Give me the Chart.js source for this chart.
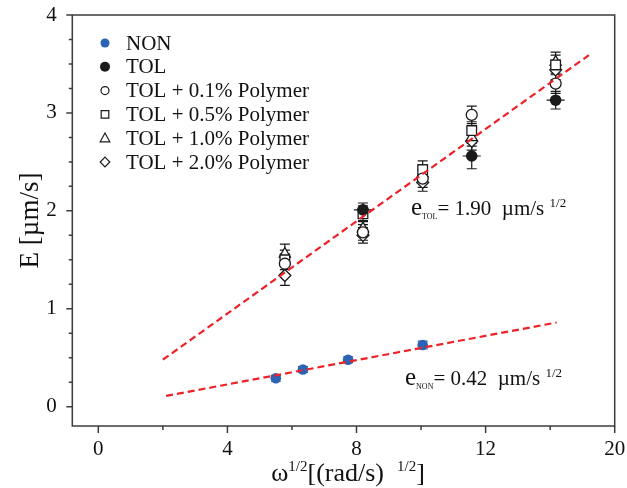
<!DOCTYPE html>
<html>
<head>
<meta charset="utf-8">
<script src="https://cdn.jsdelivr.net/npm/chart.js@4.4.0/dist/chart.umd.min.js"></script>
<style>
  html, body { margin: 0; padding: 0; background: #fff; }
  #wrap { width: 627px; height: 488px; }
</style>
</head>
<body>
<div id="wrap"><canvas id="chart" width="627" height="488"></canvas></div>
<script>
// ---- data (x = omega^1/2, y = E in um/s) ----
const xNon   = [5.50, 6.34, 7.74, 10.05];
const eNon   = [0.29, 0.38, 0.48, 0.63];
const errNon = [0.03, 0.03, 0.03, 0.04];

const xTol    = [8.20, 11.57, 14.17];
const eTol    = [2.01, 2.56, 3.13];
const errTol  = [0.07, 0.13, 0.09];
const xErrTol = [0.28, 0.28, 0.28];

const xPoly   = [5.78, 8.20, 10.05, 11.57, 14.17];
const ePoly01 = [1.46, 1.78, 2.33, 2.98, 3.30];
const ePoly05 = [1.50, 1.97, 2.42, 2.82, 3.49];
const ePoly10 = [1.56, 1.82, 2.38, 2.75, 3.52];
const ePoly20 = [1.34, 1.75, 2.29, 2.71, 3.44];
const errPoly = [0.10, 0.08, 0.09, 0.09, 0.10];

// fitted lines (end points)
const fitTolX = [2.0, 15.2];
const fitTolY = [0.48, 3.59];
const fitNonX = [2.1, 14.2];
const fitNonY = [0.11, 0.86];

// axes
const xTickValues = [0, 4, 8, 12, 16];
const xTickLabels = ['0', '4', '8', '12', '20'];
const xMinorTicks = [2, 6, 10, 14];
const yTickValues = [0, 1, 2, 3, 4];
const yMinorTicks = [0.25, 0.5, 0.75, 1.25, 1.5, 1.75, 2.25, 2.5, 2.75, 3.25, 3.5, 3.75];

const labels = ['NON', 'TOL', 'TOL + 0.1% Polymer', 'TOL + 0.5% Polymer',
                'TOL + 1.0% Polymer', 'TOL + 2.0% Polymer'];

const SERIF = '"Liberation Serif", "DejaVu Serif", serif';
const BLUE = '#2b63b5';
const INK = '#1a1a1a';
const RED = '#ec2228';

const pts = (xs, ys) => xs.map((x, i) => ({ x: x, y: ys[i] }));

function openSeries(label, ys, style, r) {
    return {
        label: label,
        data: pts(xPoly, ys),
        errY: errPoly,
        pointStyle: style,
        pointRadius: r,
        backgroundColor: '#fff',
        borderColor: INK,
        borderWidth: 1.3
    };
}

// simple marker painter for the legend
function marker(ctx, style, x, y, r, fill, stroke) {
    ctx.beginPath();
    if (style === 'circle') {
        ctx.arc(x, y, r, 0, Math.PI * 2);
    } else if (style === 'rect') {
        ctx.rect(x - r, y - r, 2 * r, 2 * r);
    } else if (style === 'triangle') {
        ctx.moveTo(x, y - r * 1.1);
        ctx.lineTo(x + r, y + r * 0.75);
        ctx.lineTo(x - r, y + r * 0.75);
        ctx.closePath();
    } else if (style === 'rectRot') {
        ctx.moveTo(x, y - r); ctx.lineTo(x + r, y);
        ctx.lineTo(x, y + r); ctx.lineTo(x - r, y);
        ctx.closePath();
    }
    ctx.fillStyle = fill;
    ctx.fill();
    if (stroke) { ctx.strokeStyle = stroke; ctx.lineWidth = 1.2; ctx.stroke(); }
}

// text made of runs with different sizes / baselines
function runs(ctx, x, y, parts, align) {
    let total = 0;
    parts.forEach(p => { ctx.font = p.s + 'px ' + SERIF; p.w = ctx.measureText(p.t).width; total += p.w; });
    let cx = align === 'center' ? x - total / 2 : x;
    ctx.textAlign = 'left';
    ctx.textBaseline = 'alphabetic';
    parts.forEach(p => {
        ctx.font = p.s + 'px ' + SERIF;
        ctx.fillText(p.t, cx, y + (p.dy || 0));
        cx += p.w;
    });
}

// no extra room for half-labels at the ends of the axes
function noOverflow(s) {
    s.paddingTop = 0; s.paddingBottom = 0; s.paddingLeft = 0; s.paddingRight = 0;
}

const errorBars = {
    id: 'errorBars',
    beforeDatasetsDraw(chart) {
        const ctx = chart.ctx;
        const xs = chart.scales.x, ys = chart.scales.y;
        ctx.save();
        ctx.lineWidth = 1.2;
        chart.data.datasets.forEach(ds => {
            if (!ds.errY) return;
            ctx.strokeStyle = ds.errColor || INK;
            ds.data.forEach((p, i) => {
                const px = xs.getPixelForValue(p.x);
                const top = ys.getPixelForValue(p.y + ds.errY[i]);
                const bot = ys.getPixelForValue(p.y - ds.errY[i]);
                ctx.beginPath();
                ctx.moveTo(px, top); ctx.lineTo(px, bot);
                ctx.moveTo(px - 5, top); ctx.lineTo(px + 5, top);
                ctx.moveTo(px - 5, bot); ctx.lineTo(px + 5, bot);
                if (ds.errX) {
                    const py = ys.getPixelForValue(p.y);
                    ctx.moveTo(xs.getPixelForValue(p.x - ds.errX[i]), py);
                    ctx.lineTo(xs.getPixelForValue(p.x + ds.errX[i]), py);
                }
                ctx.stroke();
            });
        });
        ctx.restore();
    }
};

const decorations = {
    id: 'decorations',
    afterDraw(chart) {
        const ctx = chart.ctx;
        const a = chart.chartArea;
        const xs = chart.scales.x, ys = chart.scales.y;
        ctx.save();

        // frame + tick marks
        ctx.strokeStyle = '#3c3c3c';
        ctx.lineWidth = 1.5;
        ctx.strokeRect(a.left, a.top, a.right - a.left, a.bottom - a.top);
        ctx.beginPath();
        xTickValues.forEach(v => { const p = xs.getPixelForValue(v); ctx.moveTo(p, a.bottom); ctx.lineTo(p, a.bottom + 7); });
        xMinorTicks.forEach(v => { const p = xs.getPixelForValue(v); ctx.moveTo(p, a.bottom); ctx.lineTo(p, a.bottom + 4); });
        yTickValues.forEach(v => { const p = ys.getPixelForValue(v); ctx.moveTo(a.left, p); ctx.lineTo(a.left - 6, p); });
        yMinorTicks.forEach(v => { const p = ys.getPixelForValue(v); ctx.moveTo(a.left, p); ctx.lineTo(a.left - 3.5, p); });
        ctx.stroke();

        // legend
        const legendStyles = [
            ['circle', 4.5, BLUE, null],
            ['circle', 5, INK, null],
            ['circle', 4, '#fff', INK],
            ['rect', 3.8, '#fff', INK],
            ['triangle', 4.8, '#fff', INK],
            ['rectRot', 4.8, '#fff', INK]
        ];
        labels.forEach((lab, i) => {
            const y = 43 + i * 23.8;
            const s = legendStyles[i];
            marker(ctx, s[0], 105, y, s[1], s[2], s[3]);
            ctx.fillStyle = '#111';
            ctx.font = '21px ' + SERIF;
            ctx.textAlign = 'left';
            ctx.textBaseline = 'middle';
            ctx.fillText(lab, 126, y + 1);
        });

        // slope annotations
        ctx.fillStyle = '#111';
        runs(ctx, 411, 215, [
            { t: 'e', s: 25 }, { t: 'TOL', s: 8, dy: 4 },
            { t: '= 1.90  \u00b5m/s ', s: 21 }, { t: '1/2', s: 13, dy: -8 }
        ]);
        runs(ctx, 405, 385, [
            { t: 'e', s: 25 }, { t: 'NON', s: 8, dy: 4 },
            { t: '= 0.42  \u00b5m/s ', s: 21 }, { t: '1/2', s: 13, dy: -8 }
        ]);

        // axis titles
        runs(ctx, 348, 481, [
            { t: '\u03c9', s: 26 }, { t: '1/2', s: 15, dy: -10 },
            { t: '[(rad/s)  ', s: 26 }, { t: '1/2', s: 15, dy: -10 }, { t: ']', s: 26 }
        ], 'center');
        ctx.translate(31, (a.top + a.bottom) / 2);
        ctx.rotate(-Math.PI / 2);
        ctx.font = '27px ' + SERIF;
        ctx.textAlign = 'center';
        ctx.textBaseline = 'middle';
        ctx.fillText('E [\u00b5m/s]', 0, 0);
        ctx.restore();
    }
};

new Chart(document.getElementById('chart'), {
    type: 'scatter',
    data: {
        datasets: [
            { type: 'line', label: 'fitTol', data: pts(fitTolX, fitTolY), borderColor: RED,
              borderWidth: 2.2, borderDash: [7, 4], pointRadius: 0, fill: false },
            { type: 'line', label: 'fitNon', data: pts(fitNonX, fitNonY), borderColor: RED,
              borderWidth: 2.2, borderDash: [7, 4], pointRadius: 0, fill: false },
            { label: labels[0], data: pts(xNon, eNon), errY: errNon, errColor: BLUE,
              pointStyle: 'circle', pointRadius: 5.3, backgroundColor: BLUE, borderColor: BLUE, borderWidth: 0 },
            { label: labels[1], data: pts(xTol, eTol), errY: errTol, errX: xErrTol,
              pointStyle: 'circle', pointRadius: 5.8, backgroundColor: INK, borderColor: INK, borderWidth: 0 },
            openSeries(labels[2], ePoly01, 'circle', 5.5),
            openSeries(labels[3], ePoly05, 'rect', 6.8),
            openSeries(labels[4], ePoly10, 'triangle', 6.4),
            openSeries(labels[5], ePoly20, 'rectRot', 6)
        ]
    },
    options: {
        responsive: false,
        animation: false,
        events: [],
        layout: { padding: { top: 15, right: 12.3, left: 0, bottom: 0 } },
        plugins: { legend: { display: false }, tooltip: { enabled: false } },
        scales: {
            x: {
                type: 'linear',
                min: -0.806,
                max: 16,
                afterBuildTicks: s => { s.ticks = xTickValues.map(v => ({ value: v })); },
                afterFit: s => { s.height = 62; noOverflow(s); },
                grid: { display: false, drawTicks: false },
                border: { display: false },
                ticks: {
                    padding: 11,
                    color: '#111',
                    font: { family: SERIF, size: 21 },
                    callback: (v, i) => xTickLabels[i]
                }
            },
            y: {
                type: 'linear',
                min: -0.197,
                max: 4,
                afterBuildTicks: s => { s.ticks = yTickValues.map(v => ({ value: v })); },
                afterFit: s => { s.width = 72.3; noOverflow(s); },
                grid: { display: false, drawTicks: false },
                border: { display: false },
                ticks: {
                    padding: 15.6,
                    color: '#111',
                    font: { family: SERIF, size: 21 },
                    callback: v => String(v)
                }
            }
        }
    },
    plugins: [errorBars, decorations]
});
</script>
</body>
</html>
